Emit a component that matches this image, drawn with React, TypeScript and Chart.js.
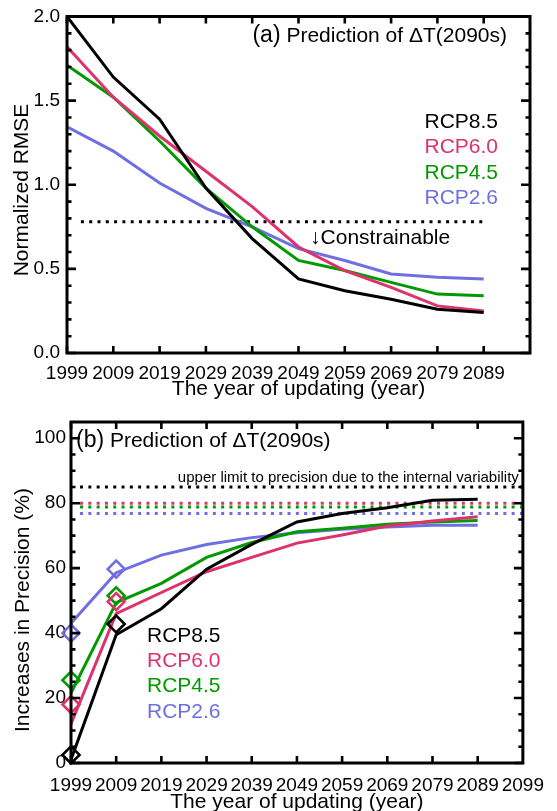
import React, { useEffect, useRef } from 'react';
import { Chart, registerables } from 'chart.js';

Chart.register(...registerables);

const FONT = '"Liberation Sans", Arial, Helvetica, sans-serif';
const BLACK = '#000000';
const PINK = '#DC336E';
const GREEN = '#009A00';
const BLUE = '#6F6FE3';

// ---------- shared categories ----------
const YEARS = [1999, 2009, 2019, 2029, 2039, 2049, 2059, 2069, 2079, 2089];
const X_TICKS_TOP = [1999, 2009, 2019, 2029, 2039, 2049, 2059, 2069, 2079, 2089];
const X_TICKS_BOTTOM = [1999, 2009, 2019, 2029, 2039, 2049, 2059, 2069, 2079, 2089, 2099];
const SCENARIOS = ['RCP8.5', 'RCP6.0', 'RCP4.5', 'RCP2.6'];

// ---------- panel (a): normalized RMSE ----------
const RMSE_85 = [2.0, 1.64, 1.39, 0.98, 0.68, 0.44, 0.37, 0.32, 0.26, 0.24];
const RMSE_60 = [1.82, 1.52, 1.29, 1.08, 0.87, 0.63, 0.49, 0.39, 0.28, 0.25];
const RMSE_45 = [1.71, 1.52, 1.26, 0.98, 0.75, 0.55, 0.49, 0.42, 0.35, 0.34];
const RMSE_26 = [1.345, 1.2, 1.01, 0.86, 0.75, 0.62, 0.55, 0.47, 0.45, 0.44];
const CONSTRAIN_LEVEL = 0.78;
const CONSTRAIN_SPAN = [2002, 2089];
const Y_TICKS_TOP = [0, 0.5, 1.0, 1.5, 2.0];

// ---------- panel (b): increases in precision ----------
const PREC_85 = [1, 39.5, 47.5, 59.7, 67.3, 74.2, 76.8, 78.6, 80.9, 81.2];
const PREC_60 = [12, 46, 52.5, 58.9, 63.3, 67.7, 70.2, 73, 74.5, 75.8];
const PREC_45 = [21.5, 49.4, 55.3, 63.3, 67.9, 71.2, 72.3, 73.5, 74.2, 74.7];
const PREC_26 = [43, 58.6, 64, 67.3, 69.4, 70.9, 72, 72.7, 73.2, 73.2];
const DIAMOND_YEARS = [1999, 2009];
const DIAM_85 = [2.5, 42.8];
const DIAM_60 = [18, 49.7];
const DIAM_45 = [25.5, 51.5];
const DIAM_26 = [40, 59.7];
const LIMIT_SPAN = [2001, 2099];
const LIMIT_INTERNAL = 85;
const LIMIT_60 = 80;
const LIMIT_45 = 78.8;
const LIMIT_26 = 76.8;
const Y_TICKS_BOTTOM = [0, 20, 40, 60, 80, 100];

const COLORS = [BLACK, PINK, GREEN, BLUE];

function pts(xs: number[], ys: number[]) {
  return xs.map((x, i) => ({ x, y: ys[i] }));
}

function solid(label: string, ys: number[], color: string) {
  return {
    label,
    data: pts(YEARS, ys),
    borderColor: color,
    backgroundColor: color,
    borderWidth: 3,
    pointRadius: 0,
    tension: 0,
    fill: false,
  };
}

function dotted(label: string, span: number[], level: number, color: string) {
  return {
    label,
    data: span.map((x) => ({ x, y: level })),
    borderColor: color,
    backgroundColor: color,
    borderWidth: 3,
    borderDash: [3, 5.3],
    borderCapStyle: 'butt',
    pointRadius: 0,
    fill: false,
  };
}

function diamonds(label: string, ys: number[], color: string) {
  return {
    label,
    data: pts(DIAMOND_YEARS, ys),
    showLine: false,
    clip: false,
    pointStyle: 'rectRot',
    pointRadius: 8.5,
    pointBorderWidth: 2.6,
    pointBorderColor: color,
    pointBackgroundColor: 'rgba(0,0,0,0)',
    borderColor: color,
    backgroundColor: 'rgba(0,0,0,0)',
  };
}

function range(a: number, b: number, step: number) {
  const out: number[] = [];
  for (let v = a; v <= b + 1e-9; v += step) out.push(Math.round(v * 1000) / 1000);
  return out;
}

function drawTitle(ctx: any, prefix: string, rest: string, x: number, baseline: number, alignRight: boolean) {
  ctx.save();
  ctx.fillStyle = '#000';
  ctx.textBaseline = 'alphabetic';
  ctx.textAlign = 'left';
  ctx.font = `23px ${FONT}`;
  const w1 = ctx.measureText(prefix).width;
  ctx.font = `21px ${FONT}`;
  const w2 = ctx.measureText(rest).width;
  const start = alignRight ? x - w1 - w2 : x;
  ctx.font = `23px ${FONT}`;
  ctx.fillText(prefix, start, baseline);
  ctx.font = `21px ${FONT}`;
  ctx.fillText(rest, start + w1, baseline);
  ctx.restore();
}

type Deco = {
  yTitle: string;
  yTitleX: number;
  yTitleY: number;
  xMajor: number[];
  yMajor: number[];
  yMinor: number[];
  draw: (chart: any) => void;
};

function framePlugin(d: Deco) {
  return {
    id: 'frameTicks',
    afterDraw(chart: any) {
      const { ctx, chartArea: a, scales } = chart;
      const x = scales.x;
      const y = scales.y;
      ctx.save();
      ctx.strokeStyle = '#000';
      ctx.lineCap = 'butt';
      ctx.lineWidth = 2.6;
      ctx.beginPath();
      for (const v of d.xMajor) {
        const p = x.getPixelForValue(v);
        ctx.moveTo(p, a.bottom);
        ctx.lineTo(p, a.bottom - 7);
        ctx.moveTo(p, a.top);
        ctx.lineTo(p, a.top + 7);
      }
      for (const v of d.yMajor) {
        const p = y.getPixelForValue(v);
        ctx.moveTo(a.left, p);
        ctx.lineTo(a.left + 9, p);
        ctx.moveTo(a.right, p);
        ctx.lineTo(a.right - 9, p);
      }
      for (const v of d.yMinor) {
        const p = y.getPixelForValue(v);
        ctx.moveTo(a.left, p);
        ctx.lineTo(a.left + 4.5, p);
        ctx.moveTo(a.right, p);
        ctx.lineTo(a.right - 4.5, p);
      }
      ctx.stroke();
      ctx.lineWidth = 3;
      ctx.strokeRect(a.left, a.top, a.right - a.left, a.bottom - a.top);
      ctx.fillStyle = '#000';
      ctx.font = `21px ${FONT}`;
      ctx.translate(d.yTitleX, d.yTitleY);
      ctx.rotate(-Math.PI / 2);
      ctx.textAlign = 'center';
      ctx.textBaseline = 'middle';
      ctx.fillText(d.yTitle, 0, 0);
      ctx.restore();
      d.draw(chart);
    },
  };
}

function xScale(ticks: number[], padding: number, height: number, titleLineHeight: number) {
  return {
    type: 'linear',
    min: 1999,
    max: 2099,
    afterBuildTicks: (s: any) => {
      s.ticks = ticks.map((v) => ({ value: v }));
    },
    afterFit: (s: any) => {
      s.height = height;
    },
    ticks: {
      color: '#000',
      font: { family: FONT, size: 19, lineHeight: 1 },
      padding,
      autoSkip: false,
      maxRotation: 0,
      minRotation: 0,
      callback: (v: any) => String(v),
    },
    grid: { display: false, drawTicks: false },
    border: { display: false },
    title: {
      display: true,
      text: 'The year of updating (year)',
      color: '#000',
      font: { family: FONT, size: 21, lineHeight: titleLineHeight },
      padding: { top: 0, bottom: 0 },
    },
  };
}

function yScale(min: number, max: number, ticks: number[], width: number, padding: number, fmt: (v: number) => string) {
  return {
    type: 'linear',
    min,
    max,
    afterBuildTicks: (s: any) => {
      s.ticks = ticks.map((v) => ({ value: v }));
    },
    afterFit: (s: any) => {
      s.width = width;
    },
    ticks: {
      color: '#000',
      font: { family: FONT, size: 19, lineHeight: 1 },
      padding,
      autoSkip: false,
      callback: (v: any) => fmt(Number(v)),
    },
    grid: { display: false, drawTicks: false },
    border: { display: false },
  };
}

export default function App() {
  const topRef = useRef<HTMLCanvasElement | null>(null);
  const botRef = useRef<HTMLCanvasElement | null>(null);

  useEffect(() => {
    const top = topRef.current!;
    const bot = botRef.current!;
    let topChart: any = null;
    let botChart: any = null;
    let cancelled = false;

    const build = () => {
      if (cancelled) return;
      topChart = new Chart(top, {
        type: 'line',
        data: {
          datasets: [
            solid(SCENARIOS[0], RMSE_85, BLACK),
            solid(SCENARIOS[1], RMSE_60, PINK),
            solid(SCENARIOS[2], RMSE_45, GREEN),
            solid(SCENARIOS[3], RMSE_26, BLUE),
            dotted('Constrainable', CONSTRAIN_SPAN, CONSTRAIN_LEVEL, BLACK),
          ] as any,
        },
        options: {
          responsive: false,
          animation: false,
          devicePixelRatio: 1,
          layout: { padding: { left: 0, right: 27, top: 13, bottom: 0 } },
          plugins: { legend: { display: false }, tooltip: { enabled: false } },
          scales: {
            x: xScale(X_TICKS_TOP, 11, 47, 1),
            y: yScale(0, 2, Y_TICKS_TOP, 67, 7, (v) => v.toFixed(1)),
          } as any,
        },
        plugins: [
          framePlugin({
            yTitle: 'Normalized RMSE',
            yTitleX: 22,
            yTitleY: 190,
            xMajor: X_TICKS_TOP,
            yMajor: Y_TICKS_TOP,
            yMinor: range(0.1, 1.9, 0.1).filter((v) => Math.abs(v * 2 - Math.round(v * 2)) > 1e-6),
            draw: (chart: any) => {
              const { ctx, chartArea: a, scales } = chart;
              drawTitle(ctx, '(a)', ' Prediction of \u0394T(2090s)', a.right - 23, 42, true);
              ctx.save();
              ctx.font = `21px ${FONT}`;
              ctx.textBaseline = 'alphabetic';
              ctx.textAlign = 'right';
              const baselines = [128, 153, 179, 204];
              SCENARIOS.forEach((s, i) => {
                ctx.fillStyle = COLORS[i];
                ctx.fillText(s, a.right - 32, baselines[i]);
              });
              ctx.textAlign = 'left';
              ctx.fillStyle = '#000';
              const cx = scales.x.getPixelForValue(2051.5);
              const cy = scales.y.getPixelForValue(CONSTRAIN_LEVEL) + 22;
              ctx.fillText('\u2193Constrainable', cx, cy);
              ctx.restore();
            },
          }),
        ],
      } as any);

      botChart = new Chart(bot, {
        type: 'line',
        data: {
          datasets: [
            diamonds(SCENARIOS[0] + ' marks', DIAM_85, BLACK),
            diamonds(SCENARIOS[1] + ' marks', DIAM_60, PINK),
            diamonds(SCENARIOS[2] + ' marks', DIAM_45, GREEN),
            diamonds(SCENARIOS[3] + ' marks', DIAM_26, BLUE),
            solid(SCENARIOS[0], PREC_85, BLACK),
            solid(SCENARIOS[1], PREC_60, PINK),
            solid(SCENARIOS[2], PREC_45, GREEN),
            solid(SCENARIOS[3], PREC_26, BLUE),
            dotted('Internal variability limit', LIMIT_SPAN, LIMIT_INTERNAL, BLACK),
            dotted(SCENARIOS[1] + ' limit', LIMIT_SPAN, LIMIT_60, PINK),
            dotted(SCENARIOS[2] + ' limit', LIMIT_SPAN, LIMIT_45, GREEN),
            dotted(SCENARIOS[3] + ' limit', LIMIT_SPAN, LIMIT_26, BLUE),
          ] as any,
        },
        options: {
          responsive: false,
          animation: false,
          devicePixelRatio: 1,
          layout: { padding: { left: 0, right: 24, top: 22, bottom: 0 } },
          plugins: { legend: { display: false }, tooltip: { enabled: false } },
          scales: {
            x: xScale(X_TICKS_BOTTOM, 13, 48, 0.85),
            y: yScale(0, 105, Y_TICKS_BOTTOM, 71, 5, (v) => String(Math.round(v))),
          } as any,
        },
        plugins: [
          framePlugin({
            yTitle: 'Increases in Precision (%)',
            yTitleX: 23,
            yTitleY: 210,
            xMajor: X_TICKS_BOTTOM.slice(0, -1),
            yMajor: Y_TICKS_BOTTOM,
            yMinor: range(5, 100, 5).filter((v) => v % 20 !== 0),
            draw: (chart: any) => {
              const { ctx, chartArea: a } = chart;
              drawTitle(ctx, '(b)', ' Prediction of \u0394T(2090s)', a.left + 5, 47, false);
              ctx.save();
              ctx.fillStyle = '#000';
              ctx.font = `15px ${FONT}`;
              ctx.textAlign = 'right';
              ctx.textBaseline = 'alphabetic';
              ctx.fillText('upper limit to precision due to the internal variability', a.right - 4, 82);
              ctx.font = `21px ${FONT}`;
              ctx.textAlign = 'left';
              const baselines = [242, 267, 292, 318];
              SCENARIOS.forEach((s, i) => {
                ctx.fillStyle = COLORS[i];
                ctx.fillText(s, 147, baselines[i]);
              });
              ctx.restore();
            },
          }),
        ],
      } as any);
    };

    const fontsApi: any = (document as any).fonts;
    if (fontsApi && fontsApi.load) {
      Promise.all([
        fontsApi.load('20px "Liberation Sans"'),
        fontsApi.load('15px "Liberation Sans"'),
      ])
        .catch(() => null)
        .then(() => build());
    } else {
      build();
    }

    return () => {
      cancelled = true;
      if (topChart) topChart.destroy();
      if (botChart) botChart.destroy();
    };
  }, []);

  return (
    <div style={{ position: 'absolute', left: 0, top: 0, width: 557, height: 811, background: '#fff' }}>
      <canvas ref={topRef} width={557} height={400} style={{ position: 'absolute', left: 0, top: 0, width: 557, height: 400 }} />
      <canvas ref={botRef} width={557} height={411} style={{ position: 'absolute', left: 0, top: 400, width: 557, height: 411 }} />
    </div>
  );
}
